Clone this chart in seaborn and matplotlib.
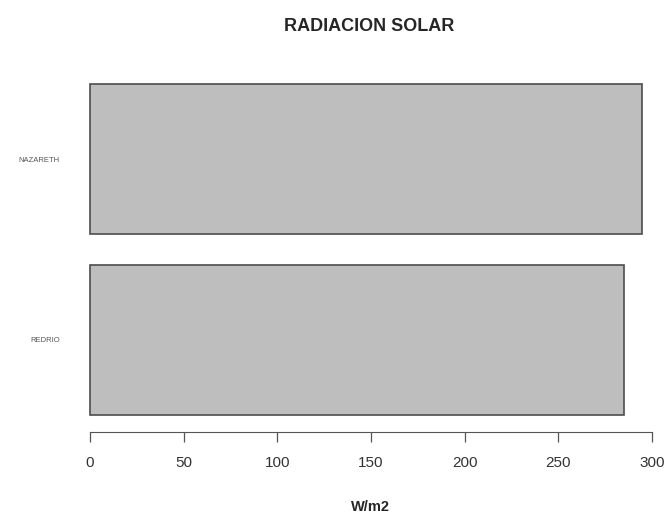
import matplotlib
matplotlib.use("Agg")
import matplotlib.pyplot as plt
import seaborn as sns
import pandas as pd

# values
stations = ["NAZARETH", "REDRIO"]
radiation = [295, 285]

df = pd.DataFrame({"station": stations, "radiation": radiation})

sns.set_style("white")
plt.rcParams["font.family"] = ["Liberation Sans", "DejaVu Sans"]
fig = plt.figure(figsize=(6.72, 5.22), dpi=100)
ax = fig.add_axes([0.1004, 0.180, 0.903, 0.684])

sns.barplot(data=df, x="radiation", y="station", orient="h", color="#bebebe",
            saturation=1, width=1 / 1.2, edgecolor="#4d4d4d", linewidth=1.2, ax=ax)

ax.set_xlim(-12, 312)
ax.set_ylim(1.4167 + 0.0733, -0.4167 - 0.0733)
ax.set_xticks(range(0, 301, 50))
ax.tick_params(axis="x", bottom=True, direction="out", length=7, width=0.9,
               color="#555555", labelsize=11, labelcolor="#333333", pad=10)
ax.tick_params(axis="y", left=False, labelsize=5.5, labelcolor="#555555", pad=2)

for s in ["top", "right", "left"]:
    ax.spines[s].set_visible(False)
ax.spines["bottom"].set_bounds(0, 300)
ax.spines["bottom"].set_position(("outward", 3))
ax.spines["bottom"].set_color("#555555")

ax.set_ylabel("")
ax.set_xlabel("W/m2", fontsize=10.5, fontweight="bold", labelpad=22)
fig.suptitle("RADIACION SOLAR", fontsize=13, fontweight="bold", x=0.55, y=0.965)

fig.savefig("out.png", dpi=100, facecolor="white")
